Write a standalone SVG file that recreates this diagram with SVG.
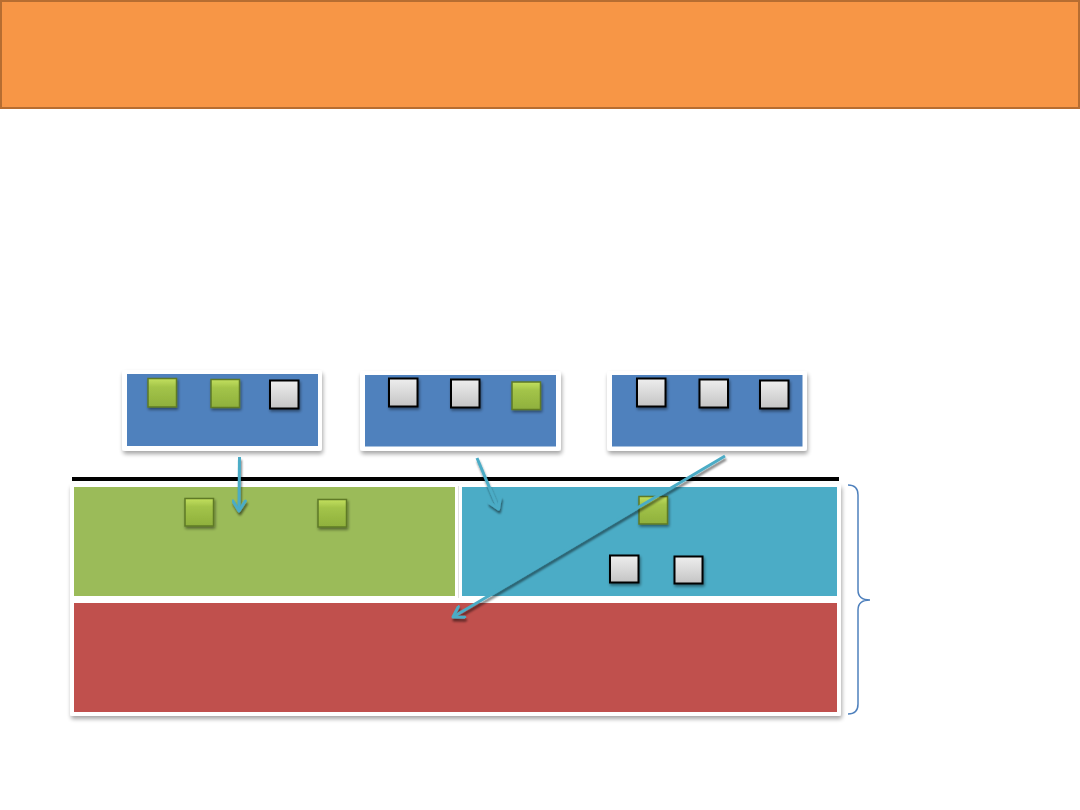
<svg xmlns="http://www.w3.org/2000/svg" width="1080" height="810" viewBox="0 0 1080 810">
<defs>
<filter id="sh" x="-10%" y="-10%" width="125%" height="130%">
<feGaussianBlur in="SourceAlpha" stdDeviation="2"/>
<feOffset dx="1" dy="3" result="b"/>
<feComponentTransfer in="b" result="c"><feFuncA type="linear" slope="0.35"/></feComponentTransfer>
<feMerge><feMergeNode in="c"/><feMergeNode in="SourceGraphic"/></feMerge>
</filter>
<filter id="sqsh" x="-20%" y="-20%" width="150%" height="150%">
<feGaussianBlur in="SourceAlpha" stdDeviation="1.5"/>
<feOffset dx="1" dy="2" result="b"/>
<feComponentTransfer in="b" result="c"><feFuncA type="linear" slope="0.45"/></feComponentTransfer>
<feMerge><feMergeNode in="c"/><feMergeNode in="SourceGraphic"/></feMerge>
</filter>
<filter id="lsh" filterUnits="userSpaceOnUse" x="0" y="400" width="1080" height="300">
<feGaussianBlur in="SourceAlpha" stdDeviation="1.2"/>
<feOffset dx="1" dy="2.5" result="b"/>
<feComponentTransfer in="b" result="c"><feFuncA type="linear" slope="0.5"/></feComponentTransfer>
<feMerge><feMergeNode in="c"/><feMergeNode in="SourceGraphic"/></feMerge>
</filter>
<linearGradient id="gg" x1="0" y1="0" x2="0" y2="1">
<stop offset="0" stop-color="#C3E05F"/>
<stop offset="0.3" stop-color="#A3C449"/>
<stop offset="1" stop-color="#8FB03D"/>
</linearGradient>
<linearGradient id="gy" x1="0" y1="0" x2="0" y2="1">
<stop offset="0" stop-color="#EEEEEE"/>
<stop offset="1" stop-color="#C4C4C4"/>
</linearGradient>
<marker id="ah" viewBox="0 0 12 12" refX="10" refY="6" markerWidth="5" markerHeight="5" orient="auto" markerUnits="strokeWidth">
<path d="M2,1 L10,6 L2,11" fill="none" stroke="#4BACC6" stroke-width="2.4" stroke-linecap="round" stroke-linejoin="round"/>
</marker>
</defs>
<style>
.frame{fill:#FFFFFF;filter:url(#sh)}
.blue{fill:#4F81BD}
.gsq{fill:url(#gg);stroke:#5E7A26;stroke-width:1.5;filter:url(#sqsh)}
.wsq{fill:url(#gy);stroke:#000000;stroke-width:2;filter:url(#sqsh)}
.conn{fill:none;stroke:#4BACC6;stroke-width:3;marker-end:url(#ah)}
</style>

<g id="banner">
<rect x="1" y="1" width="1078" height="107" fill="#F79646" stroke="#B66D31" stroke-width="2"/>
</g>

<g id="box1">
<rect class="frame" x="122" y="370" width="200" height="81" rx="3"/>
<rect class="blue" x="127" y="374" width="191" height="72"/>
<rect class="gsq" x="148" y="378.5" width="28.5" height="28.5"/>
<rect class="gsq" x="211" y="379.5" width="28.5" height="28"/>
<rect class="wsq" x="270" y="380.5" width="28.5" height="28"/>
</g>

<g id="box2">
<rect class="frame" x="360" y="371" width="201" height="80" rx="3"/>
<rect class="blue" x="365" y="375" width="191" height="71.5"/>
<rect class="wsq" x="389" y="378.5" width="28.5" height="28"/>
<rect class="wsq" x="451" y="379.5" width="28.5" height="28"/>
<rect class="gsq" x="512" y="382" width="28.5" height="27.5"/>
</g>

<g id="box3">
<rect class="frame" x="607" y="371" width="200" height="80" rx="3"/>
<rect class="blue" x="612" y="375" width="190.5" height="71.5"/>
<rect class="wsq" x="637" y="378.5" width="28.5" height="28"/>
<rect class="wsq" x="699.5" y="379.5" width="28.5" height="28"/>
<rect class="wsq" x="760" y="380.5" width="28.5" height="28"/>
</g>

<g id="baseline">
<rect x="72" y="477" width="767" height="4" fill="#000000"/>
</g>

<g id="container">
<rect class="frame" x="70" y="484" width="771" height="232" rx="2"/>
<line x1="458.5" y1="486" x2="458.5" y2="598" stroke="#E0E0E0" stroke-width="1"/>
</g>

<g id="green-area">
<rect x="74" y="487" width="381" height="109" fill="#9BBB59"/>
<rect class="gsq" x="185" y="498.5" width="28.5" height="27.5"/>
<rect class="gsq" x="318" y="499.5" width="28.5" height="27.5"/>
</g>

<g id="blue-area">
<rect x="462" y="487" width="375" height="109" fill="#4BACC6"/>
<rect class="gsq" x="639" y="496.5" width="28.5" height="27.5"/>
<rect class="wsq" x="610" y="555.5" width="28.5" height="27"/>
<rect class="wsq" x="674.5" y="556.5" width="28" height="27"/>
</g>

<g id="red-area">
<rect x="74" y="603" width="763" height="109" fill="#C0504D"/>
</g>

<g id="brace">
<path d="M848,485 Q858,485 858,495 L858,590 Q858,600 870,600 Q858,600 858,610 L858,704 Q858,714 848,714" fill="none" stroke="#4F81BD" stroke-width="1.5"/>
</g>

<g id="connectors" filter="url(#lsh)">
<line class="conn" x1="239.5" y1="457" x2="239" y2="511"/>
<line class="conn" x1="477" y1="458" x2="498.5" y2="509"/>
<line class="conn" x1="725" y1="456" x2="453" y2="617"/>
</g>
</svg>
